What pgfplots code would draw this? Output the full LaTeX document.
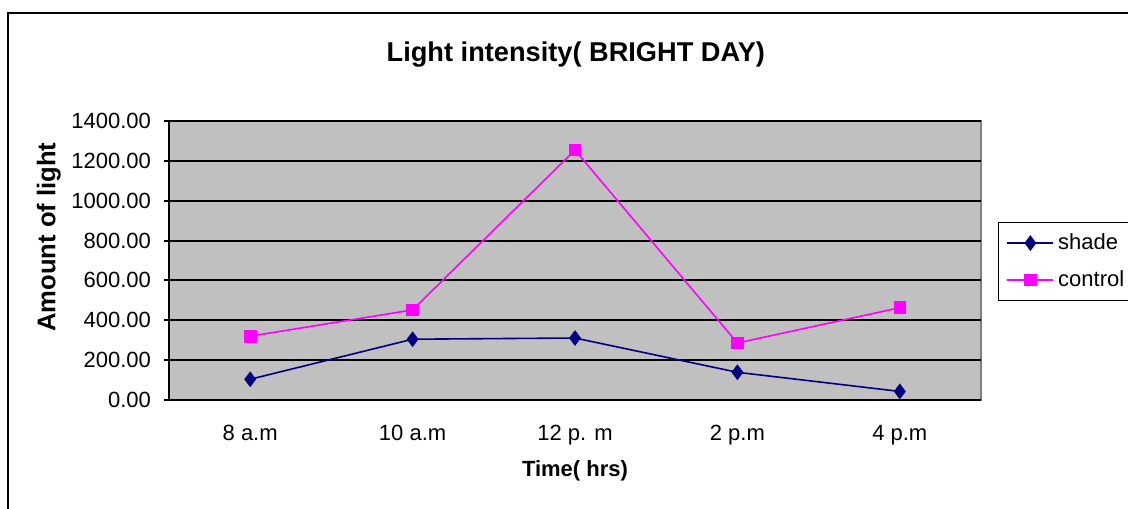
\documentclass[border=0pt]{standalone}
\usepackage{pgfplots}
\pgfplotsset{compat=1.18}
\usepackage{fontspec}
\setmainfont{Liberation Sans}

\definecolor{plotgray}{HTML}{C0C0C0}
\definecolor{framegray}{HTML}{808080}
\definecolor{shadeblue}{HTML}{000080}
\definecolor{ctrlpink}{HTML}{FF00FF}

\begin{document}
\begin{tikzpicture}
\useasboundingbox (0,0) rectangle (564pt,254pt);
% outer chart border (cropped at right and bottom)
\draw[line width=0.75pt] (4pt,-20pt) rectangle (600pt,247.5pt);
\begin{axis}[
    at={(84.5pt,54pt)}, anchor=south west,
    scale only axis, width=406pt, height=139.5pt,
    xmin=0, xmax=5, ymin=0, ymax=1400,
    axis background/.style={fill=plotgray, draw=framegray, line width=0.8pt},
    axis x line*=bottom, axis y line*=left,
    axis line style={-, black, line width=1pt},
    tick style={black, line width=1pt},
    tick align=outside, major tick length=2.5pt,
    xtick={0.5,1.5,2.5,3.5,4.5},
    xticklabels={8 a.m, 10 a.m, 12 p. m, 2 p.m, 4 p.m},
    x tick style={draw=none},
    extra x ticks={0,1,2,3,4,5},
    extra x tick labels={},
    extra x tick style={tick style={black, line width=1pt}, major tick length=5pt, grid=none},
    ytick={0,200,...,1400},
    ymajorgrids, major grid style={black, line width=1pt},
    /pgf/number format/fixed, /pgf/number format/fixed zerofill,
    /pgf/number format/precision=2, /pgf/number format/1000 sep={},
    /pgf/number format/assume math mode=true,
    yticklabel style={font=\fontsize{11}{13}\selectfont, anchor=east, xshift=-3pt},
    xticklabel style={font=\fontsize{11}{13}\selectfont, anchor=base, yshift=-18pt},
    title={\textbf{Light intensity( BRIGHT DAY)}},
    title style={font=\fontsize{13.6}{16}\selectfont, at={(axis description cs:0.501,1.197)}, anchor=center},
    xlabel={\textbf{Time( hrs)}},
    xlabel style={font=\fontsize{11}{13}\selectfont, at={(axis description cs:0.5,-0.255)}, anchor=center},
    ylabel={\textbf{Amount of light}},
    ylabel style={font=\fontsize{12.8}{14}\selectfont, at={(axis description cs:-0.148,0.584)}, anchor=center, rotate=0},
    legend style={at={(axis description cs:1.0209,0.638)}, anchor=north west,
        draw=black, line width=0.6pt, fill=white,
        font=\fontsize{11}{13}\selectfont, cells={anchor=west},
        row sep=5pt, inner xsep=4pt, inner ysep=3.5pt},
    legend image code/.code={\draw[mark repeat=2, mark phase=2] plot coordinates {(0pt,0pt) (11.5pt,0pt) (23pt,0pt)};},
]
\addplot[shadeblue, line width=0.8pt, mark=diamond*, mark size=3.3pt, mark options={solid, fill=shadeblue}]
    coordinates {(0.5,104) (1.5,305) (2.5,311) (3.5,139) (4.5,43)};
\addlegendentry{shade}
\addplot[ctrlpink, line width=0.8pt, mark=square*, mark size=2.75pt, mark options={solid, fill=ctrlpink}]
    coordinates {(0.5,320) (1.5,452) (2.5,1254) (3.5,286) (4.5,463)};
\addlegendentry{control}
\end{axis}
\end{tikzpicture}
\end{document}
